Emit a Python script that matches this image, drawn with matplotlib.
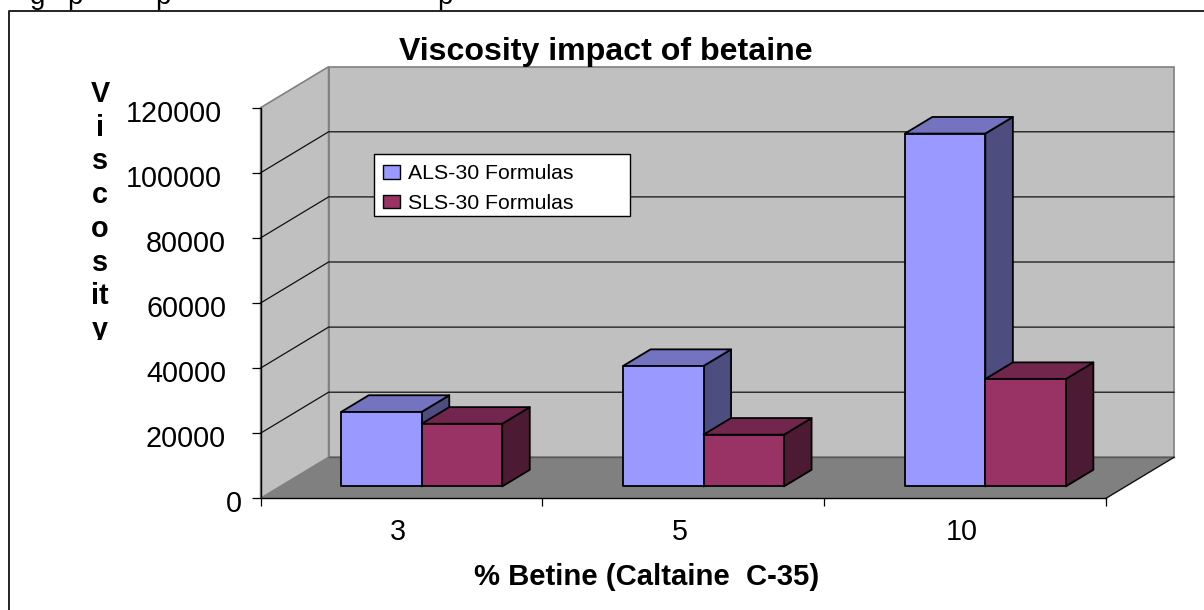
import matplotlib
matplotlib.use("Agg")
import matplotlib.pyplot as plt
from matplotlib.patches import Polygon, Patch, Rectangle
from matplotlib.transforms import ScaledTranslation

categories = ["3", "5", "10"]
als_values = [22900, 37000, 108400]
sls_values = [19250, 15900, 33000]
y_ticks = [0, 20000, 40000, 60000, 80000, 100000, 120000]

plt.rcParams["font.family"] = ["Liberation Sans", "DejaVu Sans"]
W, H = 1204, 610
fig = plt.figure(figsize=(W / 100, H / 100), dpi=100)

# front-plane pixel geometry
X0, X1, Y0, Y1 = 260.6, 1106.0, 498.3, 107.7
RIGHT, TOP = 1174.0, 66.0
px_x = (X1 - X0) / 3
px_y = (Y0 - Y1) / 120000
ax = fig.add_axes([X0 / W, 1 - Y0 / H, (RIGHT - X0) / W, (Y0 - TOP) / H])
ax.set_xlim(0, (RIGHT - X0) / px_x)
ax.set_ylim(0, (Y0 - TOP) / px_y)
ax.patch.set_visible(False)

DX = 68.0 / px_x
DY = 41.0 / px_y


def P(x, v, z):
    return (x + z * DX, v + z * DY)


WALL, FLOOR, EDGE = "#C0C0C0", "#808080", "#808080"
TOPV = y_ticks[-1]
# walls and floor
ax.add_patch(Polygon([P(0, 0, 1), P(3, 0, 1), P(3, TOPV, 1), P(0, TOPV, 1)],
                     fc=WALL, ec=EDGE, lw=1.2, zorder=1, clip_on=False))
ax.add_patch(Polygon([P(0, 0, 0), P(0, 0, 1), P(0, TOPV, 1), P(0, TOPV, 0)],
                     fc=WALL, ec=EDGE, lw=1.2, zorder=1, clip_on=False))
ax.add_patch(Polygon([P(0, 0, 0), P(3, 0, 0), P(3, 0, 1), P(0, 0, 1)],
                     fc=FLOOR, ec="none", zorder=2, clip_on=False))
# gridlines
for v in y_ticks[1:-1]:
    pts = [P(0, v, 0), P(0, v, 1), P(3, v, 1)]
    ax.plot(*zip(*pts), color="#111111", lw=0.9, zorder=2, clip_on=False)
a, b = P(0, 0, 1), P(3, 0, 1)
ax.plot([a[0], b[0]], [a[1], b[1]], color="#5a5a5a", lw=1.0, zorder=2, clip_on=False)
a, b = P(3, 0, 0), P(3, 0, 1)
ax.plot([a[0], b[0]], [a[1], b[1]], color="#111111", lw=1.0, zorder=3, clip_on=False)

# bars
BW = 80.5 / px_x
GAP = 60.9 / px_x
Z0, Z1 = 0.29, 0.695
BAR_COLORS = [("#9999FF", "#7373BF", "#4D4D80"), ("#993366", "#73264D", "#4D1A33")]


def bar(x, v, cols):
    face, top, side = cols
    kw = dict(ec="black", lw=1.3, zorder=5, clip_on=False, joinstyle="round")
    ax.add_patch(Polygon([P(x + BW, 0, Z0), P(x + BW, 0, Z1), P(x + BW, v, Z1), P(x + BW, v, Z0)], fc=side, **kw))
    ax.add_patch(Polygon([P(x, v, Z0), P(x + BW, v, Z0), P(x + BW, v, Z1), P(x, v, Z1)], fc=top, **kw))
    ax.add_patch(Polygon([P(x, 0, Z0), P(x + BW, 0, Z0), P(x + BW, v, Z0), P(x, v, Z0)], fc=face, **kw))


for i in range(len(categories)):
    bar(i + GAP, als_values[i], BAR_COLORS[0])
    bar(i + GAP + BW, sls_values[i], BAR_COLORS[1])

# axes
for s in ("top", "right"):
    ax.spines[s].set_visible(False)
ax.spines["left"].set_bounds(0, TOPV)
ax.spines["bottom"].set_bounds(0, 3)
ax.spines["left"].set_linewidth(1.0)
ax.spines["bottom"].set_linewidth(1.0)
ax.spines["left"].set_zorder(4)
ax.spines["bottom"].set_zorder(4)

ax.set_yticks(y_ticks)
ax.set_yticklabels([str(v) for v in y_ticks])
ax.tick_params(axis="y", length=6.2, width=0.9, pad=18.7, labelsize=20.7)
ax.set_xticks([0, 1, 2, 3])
ax.set_xticklabels([])
ax.tick_params(axis="x", which="major", length=5.4, width=0.9)
ax.set_xticks([0.5, 1.5, 2.5], minor=True)
ax.set_xticklabels(categories, minor=True)
ax.tick_params(axis="x", which="minor", length=0, pad=14.5, labelsize=20.7)

px = 0.72 / 72
y_shift = [16, 0, 0, 0, 0, -4, -4]
for lab, dx in zip(ax.get_yticklabels(), y_shift):
    lab.set_transform(lab.get_transform() + ScaledTranslation(dx * px, -3 * px, fig.dpi_scale_trans))
for lab in ax.get_xticklabels(minor=True):
    lab.set_transform(lab.get_transform() + ScaledTranslation(-3.5 * px, 0, fig.dpi_scale_trans))

# legend: box drawn separately so the entries can sit exactly inside it
fig.add_artist(Rectangle((374 / W, 1 - 215.7 / H), 256.4 / W, 61.7 / H, transform=fig.transFigure,
                         fc="white", ec="black", lw=1.0, zorder=6))
handles = [Patch(fc=BAR_COLORS[0][0], ec="black", lw=1.0), Patch(fc=BAR_COLORS[1][0], ec="black", lw=1.0)]
leg = fig.legend(handles, ["ALS-30 Formulas", "SLS-30 Formulas"],
                 loc="upper left", bbox_to_anchor=(376.5 / W, 1 - 158 / H),
                 bbox_transform=fig.transFigure, borderaxespad=0, frameon=False,
                 fontsize=15.3, handlelength=0.8, handleheight=0.61,
                 handletextpad=0.376, labelspacing=0.5, borderpad=0.3)
leg.set_zorder(7)

# text
fig.text(399 / W, 1 - 60 / H, "Viscosity impact of betaine", fontsize=23.1, fontweight="bold",
         ha="left", va="baseline", color="black")
fig.text(474.5 / W, 1 - 585 / H, "% Betine (Caltaine  C-35)", fontsize=21.1, fontweight="bold",
         ha="left", va="baseline", color="black")
ylab = fig.text(100 / W, 1 - 80 / H, "V\ni\ns\nc\no\ns\nit\ny", fontsize=20.7, fontweight="bold",
                ha="center", va="top", linespacing=1.26, color="black")
ylab.set_clip_path(Rectangle((60, H - 340), 80, 280, transform=None))
ylab.set_clip_on(True)

# cut-off line of text above the chart frame: only descenders remain
for x, ch in zip([38, 74.5, 163, 445], "gppp"):
    fig.text(x / W, 1 - 4 / H, ch, fontsize=20, ha="center", va="baseline", color="black")

# outer frame (only top and left edges fall inside the picture)
fig.add_artist(plt.Line2D([9 / W, 9 / W, 1], [0, 1 - 10.5 / H, 1 - 10.5 / H], color="#222222", lw=1.4,
                          transform=fig.transFigure))

fig.savefig("out.png", dpi=100)
